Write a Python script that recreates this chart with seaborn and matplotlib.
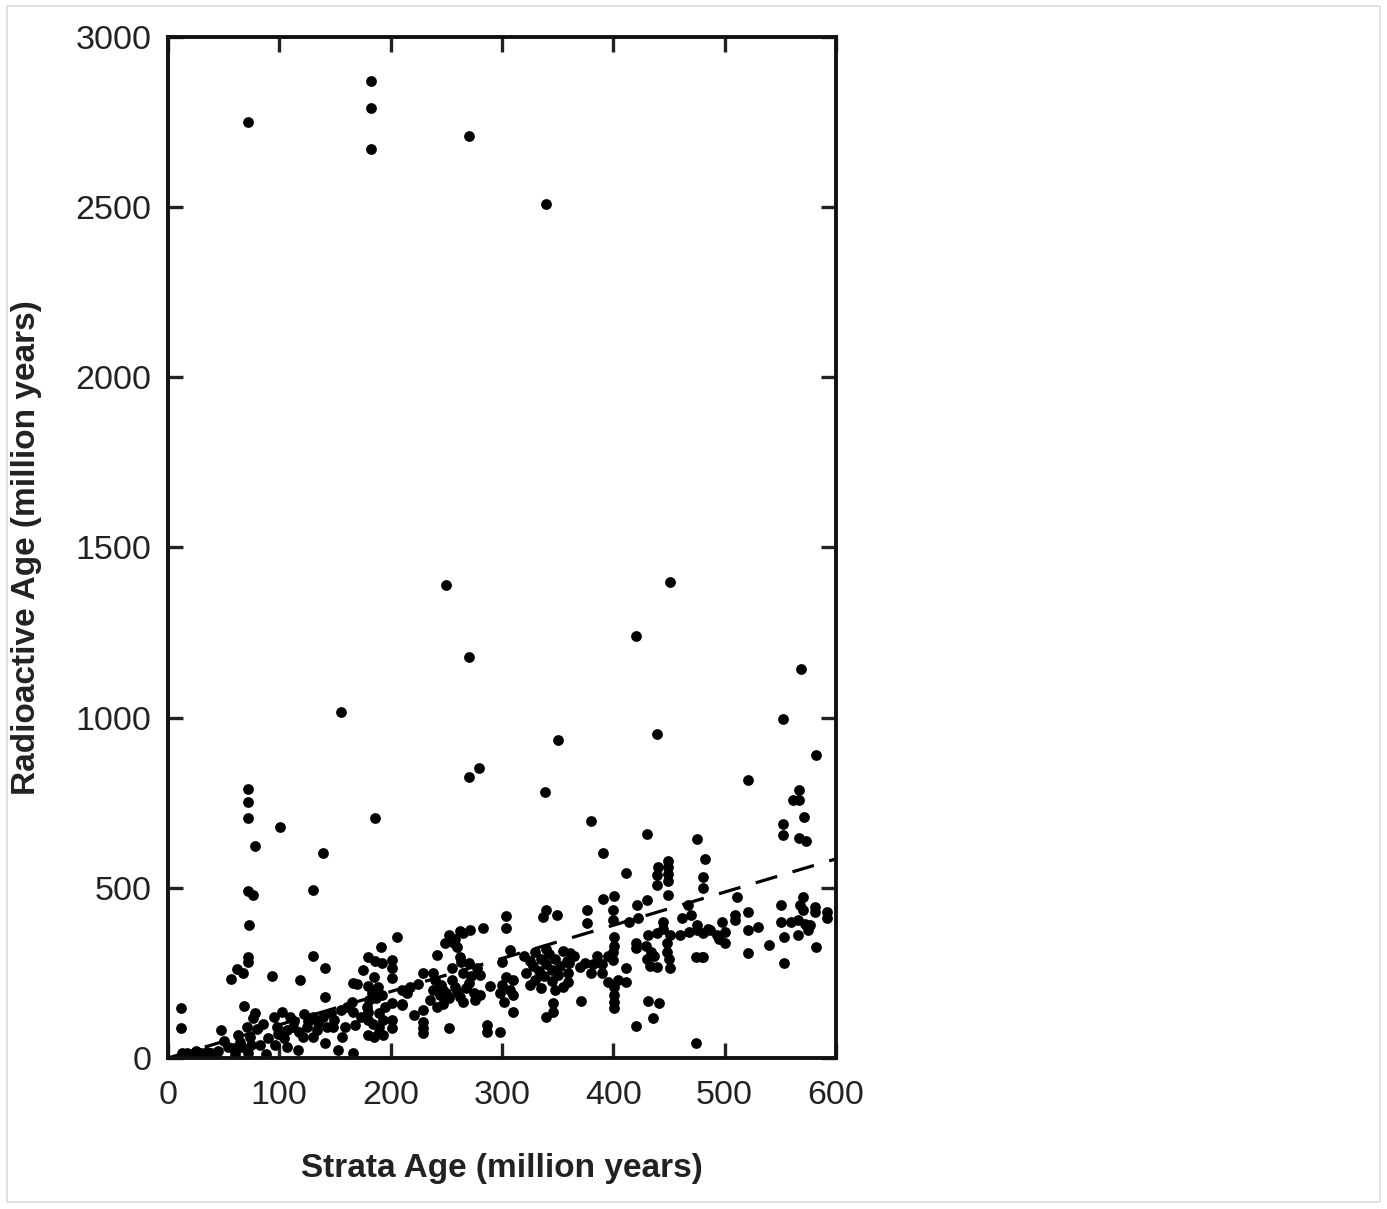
import matplotlib
matplotlib.use('Agg')
import matplotlib.pyplot as plt
import matplotlib.patches as patches
import seaborn as sns
import pandas as pd

# strata age vs radioactive age (million years)
strata_age = [
    # outliers
    72, 182, 182, 182, 270, 340, 250, 451, 420, 270, 569, 155, 552, 439, 350, 582, 270, 279, 521, 339,
    72, 72, 72, 186, 101, 78, 139, 380, 391, 430, 475, 567, 561, 567, 571, 552, 552, 567, 573, 411, 482,
    130, 72, 76, 73,
    # 0-100
    12, 12, 13, 17, 22, 30, 39, 42, 48, 54, 57, 62, 67, 72, 72, 68, 78, 76, 71, 63, 65, 66, 74, 75, 83,
    72, 93, 58, 60, 88, 80, 85, 90, 95, 50, 45, 35, 25,
    # 95-180
    102, 98, 99, 104, 107, 112, 96, 107, 119, 130, 141, 175, 185, 166, 170, 180, 141, 179, 180,
    122, 130, 135, 139, 146, 149, 155, 161, 165, 166, 173, 168, 159, 156, 148, 143, 134, 125, 121, 130,
    141, 153, 166, 117, 180, 113, 118, 110, 126,
    # 180-240
    206, 191, 180, 186, 192, 201, 201, 201, 229, 225, 217, 210, 238, 187, 192, 201, 210, 221, 229, 229,
    229, 229, 190, 193, 201, 201, 193, 181, 183, 186, 189, 180, 184, 190, 190, 185, 210, 215, 195,
    # 235-310
    242, 249, 265, 271, 283, 252, 258, 262, 257, 260, 262, 263, 280, 280, 289, 252, 287, 287, 298,
    238, 240, 245, 247, 250, 252, 255, 258, 260, 262, 265, 268, 270, 272, 275, 276, 247, 242, 265, 255,
    270, 278, 244, 235, 298, 300, 304, 307, 310, 310, 302, 310,
    # 300-360
    340, 349, 337, 304, 304, 307, 300,
    320, 325, 328, 330, 333, 335, 338, 340, 342, 345, 345, 348, 350, 352, 355, 355, 358, 330, 325, 335,
    340, 348, 322, 340, 346, 346, 359, 359, 360, 361,
    # 360-420
    376, 376, 391, 401, 400, 400, 414, 422, 421, 430, 400, 400, 401, 401, 420, 420,
    370, 375, 382, 380, 390, 395, 404, 411, 411, 401, 401, 401, 401, 371, 365, 385, 395, 390, 420, 474,
    # 420-490
    429, 431, 434, 430, 433, 437, 439, 439, 439, 440, 449, 449, 449, 449, 449,
    439, 445, 445, 451, 462, 467, 470, 475, 448, 448, 450, 451, 460, 468, 475, 474, 480,
    431, 441, 436, 481, 481, 481, 481, 485, 487,
    # 490-600
    511, 521, 509, 509, 498, 500, 493, 495, 500, 521, 530, 521, 540, 551, 551, 553, 553, 570, 568, 570,
    566, 572, 566, 577, 581, 581, 592, 592, 582, 560, 575,
]
radio_age = [
    2750, 2870, 2790, 2670, 2710, 2510, 1390, 1400, 1240, 1178, 1143, 1017, 996, 952, 934, 890, 826, 852, 817, 782,
    790, 752, 705, 705, 679, 623, 602, 696, 602, 658, 644, 788, 758, 758, 708, 688, 655, 647, 638, 544, 585,
    494, 491, 478, 391,
    147, 88, 15, 15, 12, 15, 15, 12, 82, 32, 232, 261, 250, 297, 283, 153, 132, 118, 91, 68, 47, 32, 62, 38, 38,
    15, 241, 30, 12, 12, 85, 100, 60, 120, 50, 22, 18, 20,
    135, 90, 70, 60, 82, 90, 38, 32, 229, 300, 264, 259, 238, 220, 217, 212, 179, 150, 135,
    129, 120, 103, 120, 132, 112, 141, 150, 165, 135, 120, 97, 91, 62, 91, 91, 82, 91, 62, 62,
    44, 24, 15, 24, 68, 110, 75, 120, 110,
    356, 326, 297, 285, 279, 288, 264, 235, 250, 217, 209, 200, 200, 176, 185, 162, 156, 126, 141, 106,
    88, 73, 132, 112, 112, 88, 68, 170, 190, 200, 209, 112, 100, 90, 75, 62, 160, 190, 150,
    303, 338, 367, 376, 382, 360, 350, 372, 338, 326, 297, 283, 244, 185, 212, 88, 97, 76, 76,
    250, 230, 215, 200, 190, 175, 230, 210, 195, 180, 165, 205, 220, 240, 190, 170, 160, 150, 250, 265,
    280, 265, 185, 170, 190, 215, 238, 200, 228, 185, 165, 135,
    435, 420, 414, 417, 382, 317, 282,
    300, 285, 270, 310, 255, 290, 240, 275, 305, 260, 225, 290, 245, 270, 210, 315, 285, 230, 215, 205,
    320, 200, 250, 120, 135, 162, 223, 250, 280, 309,
    435, 397, 467, 476, 435, 406, 400, 411, 450, 464, 288, 310, 330, 355, 338, 323,
    267, 280, 275, 250, 275, 223, 230, 264, 223, 147, 165, 185, 209, 168, 300, 300, 300, 250, 94, 44,
    330, 361, 310, 290, 270, 300, 267, 508, 538, 561, 579, 560, 540, 520, 479,
    367, 400, 380, 361, 410, 450, 420, 390, 338, 310, 290, 264, 361, 370, 376, 297, 297,
    168, 162, 118, 532, 500, 367, 297, 380, 375,
    473, 429, 420, 406, 400, 370, 361, 350, 338, 376, 385, 309, 332, 450, 400, 355, 279, 473, 450, 435,
    406, 395, 361, 390, 444, 430, 430, 411, 326, 400, 375,
]

# dashed reference line
ref_x = [0, 600]
ref_y = [0, 585]

df = pd.DataFrame({'strata': strata_age, 'radio': radio_age})

sns.set_style('ticks')
plt.rcParams['font.family'] = ['Liberation Sans', 'DejaVu Sans']

fig = plt.figure(figsize=(13.87, 12.09), dpi=100)
ax = fig.add_axes([0.1211, 0.1249, 0.4816, 0.8445])

ax.plot(ref_x, ref_y, color='black', lw=2.3, ls=(0, (7, 5)), zorder=1)
sns.scatterplot(data=df, x='strata', y='radio', color='black', s=60, linewidth=0, ax=ax, zorder=2)

ax.set_xlim(0, 600)
ax.set_ylim(0, 3000)
ax.set_xticks(range(0, 601, 100))
ax.set_yticks(range(0, 3001, 500))
ax.tick_params(direction='in', length=11, width=2.4, top=True, right=True,
               labelsize=24.5, colors='#222222')
ax.tick_params(axis='x', pad=16)
ax.tick_params(axis='y', pad=12)
for s in ax.spines.values():
    s.set_linewidth(2.8)
    s.set_color('#111111')

ax.set_xlabel('Strata Age (million years)', fontsize=24, fontweight='bold', color='#222222', labelpad=30)
ax.set_ylabel('Radioactive Age (million years)', fontsize=24, fontweight='bold', color='#222222', labelpad=24)

# thin frame around the picture
fig.patches.append(patches.Rectangle((0.005, 0.006), 0.99, 0.989, transform=fig.transFigure,
                                     fill=False, edgecolor='#dddddd', lw=1.2))

plt.savefig('out.png', dpi=100)
